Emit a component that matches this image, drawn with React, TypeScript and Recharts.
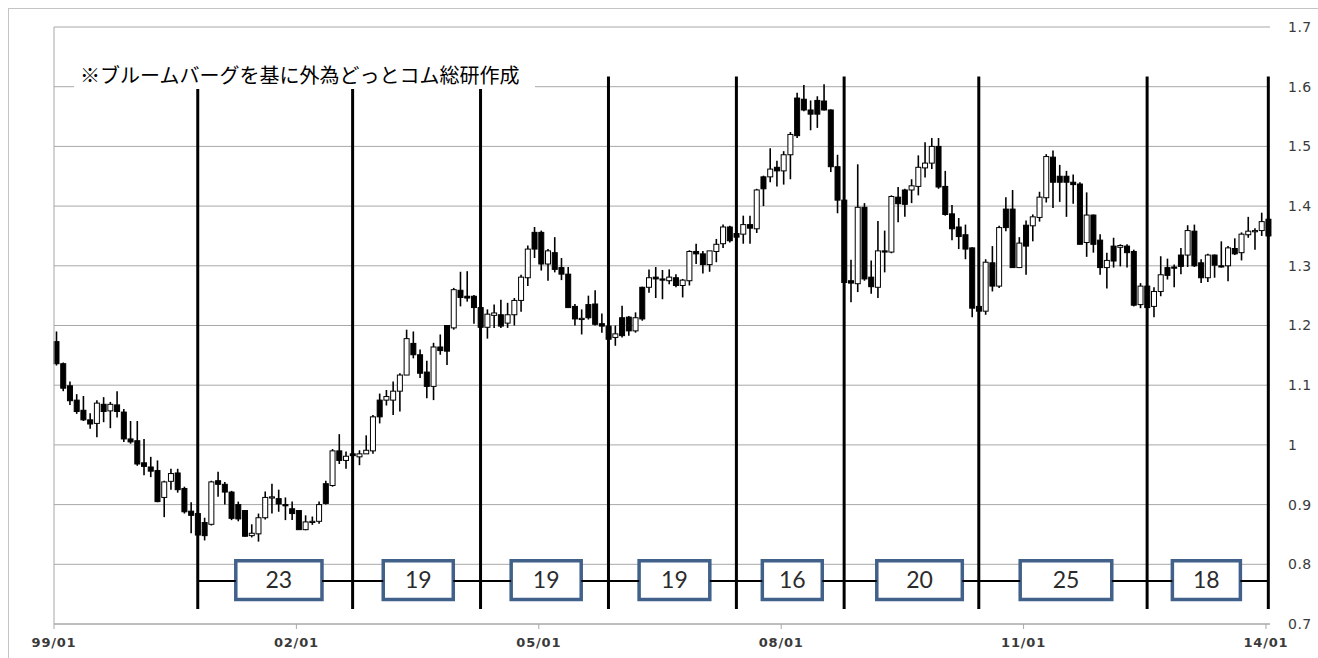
import { ComposedChart, Bar, XAxis, YAxis, CartesianGrid, ReferenceLine, ReferenceArea } from "recharts";

// EUR/USD monthly candles, 99/01 .. 14/01 (index 0 = 1999-01)
const OPEN = [
  1.173, 1.136, 1.099, 1.075, 1.058, 1.042, 1.036, 1.068, 1.057, 1.067,
  1.055, 1.010, 1.007, 0.970, 0.963, 0.957, 0.912, 0.939, 0.953, 0.927,
  0.889, 0.885, 0.870, 0.867, 0.940, 0.934, 0.921, 0.900, 0.890, 0.848,
  0.851, 0.878, 0.912, 0.910, 0.900, 0.893, 0.890, 0.858, 0.870, 0.872,
  0.935, 0.932, 0.990, 0.974, 0.985, 0.980, 0.985, 0.990, 1.075, 1.075,
  1.075, 1.090, 1.117, 1.170, 1.151, 1.122, 1.098, 1.164, 1.200, 1.196,
  1.259, 1.249, 1.249, 1.230, 1.197, 1.217, 1.218, 1.204, 1.218, 1.242,
  1.280, 1.356, 1.356, 1.303, 1.322, 1.297, 1.286, 1.232, 1.211, 1.235,
  1.236, 1.203, 1.199, 1.180, 1.213, 1.214, 1.191, 1.264, 1.264, 1.281,
  1.278, 1.275, 1.280, 1.267, 1.275, 1.324, 1.320, 1.302, 1.324, 1.337,
  1.365, 1.354, 1.353, 1.369, 1.362, 1.449, 1.449, 1.465, 1.459, 1.486,
  1.581, 1.579, 1.561, 1.577, 1.576, 1.561, 1.466, 1.410, 1.275, 1.270,
  1.398, 1.281, 1.264, 1.325, 1.323, 1.415, 1.427, 1.427, 1.433, 1.464,
  1.472, 1.500, 1.433, 1.387, 1.365, 1.352, 1.330, 1.232, 1.224, 1.305,
  1.266, 1.395, 1.395, 1.297, 1.368, 1.367, 1.381, 1.414, 1.482, 1.450,
  1.450, 1.440, 1.437, 1.339, 1.385, 1.343, 1.297, 1.333, 1.331, 1.333,
  1.324, 1.235, 1.266, 1.232, 1.257, 1.297, 1.298, 1.318, 1.318, 1.358,
  1.305, 1.280, 1.318, 1.300, 1.300, 1.329, 1.322, 1.352, 1.359, 1.359,
  1.378,
];
const HIGH = [
  1.190, 1.138, 1.106, 1.085, 1.082, 1.053, 1.075, 1.080, 1.072, 1.090,
  1.060, 1.040, 1.040, 1.010, 0.980, 0.974, 0.940, 0.960, 0.960, 0.930,
  0.904, 0.890, 0.878, 0.940, 0.955, 0.938, 0.923, 0.905, 0.890, 0.867,
  0.885, 0.922, 0.935, 0.925, 0.912, 0.905, 0.890, 0.882, 0.880, 0.905,
  0.940, 0.993, 1.018, 0.989, 0.990, 0.991, 1.016, 1.050, 1.086, 1.092,
  1.106, 1.120, 1.193, 1.190, 1.160, 1.141, 1.171, 1.185, 1.200, 1.263,
  1.290, 1.291, 1.251, 1.231, 1.227, 1.235, 1.243, 1.238, 1.246, 1.285,
  1.334, 1.365, 1.359, 1.328, 1.348, 1.313, 1.298, 1.236, 1.227, 1.250,
  1.259, 1.220, 1.202, 1.200, 1.233, 1.216, 1.222, 1.265, 1.294, 1.298,
  1.293, 1.294, 1.286, 1.278, 1.326, 1.337, 1.325, 1.325, 1.345, 1.369,
  1.367, 1.360, 1.384, 1.384, 1.429, 1.451, 1.497, 1.476, 1.492, 1.524,
  1.590, 1.603, 1.577, 1.584, 1.604, 1.562, 1.486, 1.410, 1.310, 1.470,
  1.405, 1.309, 1.375, 1.359, 1.418, 1.432, 1.429, 1.445, 1.485, 1.507,
  1.514, 1.514, 1.459, 1.402, 1.380, 1.369, 1.331, 1.250, 1.311, 1.333,
  1.367, 1.415, 1.427, 1.348, 1.376, 1.386, 1.424, 1.487, 1.493, 1.469,
  1.459, 1.453, 1.440, 1.423, 1.386, 1.353, 1.322, 1.347, 1.336, 1.336,
  1.327, 1.271, 1.270, 1.264, 1.316, 1.312, 1.302, 1.330, 1.368, 1.369,
  1.311, 1.320, 1.319, 1.341, 1.333, 1.346, 1.356, 1.382, 1.363, 1.389,
  1.385,
];
const LOW = [
  1.133, 1.090, 1.067, 1.052, 1.040, 1.027, 1.013, 1.038, 1.028, 1.046,
  1.005, 1.002, 0.965, 0.949, 0.946, 0.904, 0.879, 0.925, 0.920, 0.885,
  0.852, 0.835, 0.840, 0.865, 0.913, 0.900, 0.874, 0.872, 0.846, 0.845,
  0.838, 0.875, 0.885, 0.888, 0.874, 0.874, 0.858, 0.857, 0.866, 0.868,
  0.900, 0.930, 0.968, 0.960, 0.980, 0.966, 0.985, 0.985, 1.036, 1.066,
  1.050, 1.056, 1.117, 1.145, 1.112, 1.078, 1.075, 1.151, 1.134, 1.193,
  1.232, 1.240, 1.203, 1.196, 1.178, 1.196, 1.196, 1.196, 1.200, 1.223,
  1.266, 1.313, 1.292, 1.275, 1.289, 1.276, 1.230, 1.200, 1.185, 1.210,
  1.200, 1.188, 1.175, 1.166, 1.180, 1.183, 1.188, 1.208, 1.255, 1.246,
  1.244, 1.269, 1.264, 1.247, 1.267, 1.303, 1.287, 1.290, 1.306, 1.330,
  1.339, 1.340, 1.337, 1.337, 1.355, 1.400, 1.440, 1.433, 1.436, 1.445,
  1.514, 1.559, 1.527, 1.531, 1.560, 1.457, 1.388, 1.270, 1.239, 1.256,
  1.275, 1.253, 1.246, 1.289, 1.321, 1.373, 1.382, 1.405, 1.418, 1.448,
  1.462, 1.429, 1.384, 1.343, 1.328, 1.311, 1.214, 1.189, 1.218, 1.257,
  1.263, 1.358, 1.297, 1.297, 1.285, 1.341, 1.374, 1.406, 1.397, 1.407,
  1.382, 1.404, 1.336, 1.315, 1.322, 1.285, 1.262, 1.297, 1.299, 1.297,
  1.232, 1.229, 1.206, 1.214, 1.249, 1.277, 1.264, 1.286, 1.298, 1.298,
  1.271, 1.273, 1.280, 1.297, 1.274, 1.318, 1.309, 1.347, 1.327, 1.350,
  1.345,
];
const CLOSE = [
  1.136, 1.095, 1.074, 1.056, 1.042, 1.035, 1.070, 1.056, 1.068, 1.056,
  1.010, 1.005, 0.968, 0.964, 0.956, 0.905, 0.938, 0.952, 0.925, 0.888,
  0.882, 0.849, 0.848, 0.938, 0.934, 0.921, 0.877, 0.876, 0.847, 0.852,
  0.878, 0.912, 0.913, 0.901, 0.898, 0.885, 0.858, 0.871, 0.872, 0.900,
  0.902, 0.990, 0.974, 0.981, 0.982, 0.985, 0.991, 1.047, 1.047, 1.081,
  1.090, 1.117, 1.178, 1.151, 1.120, 1.098, 1.164, 1.158, 1.157, 1.260,
  1.247, 1.246, 1.230, 1.197, 1.219, 1.221, 1.199, 1.218, 1.242, 1.281,
  1.328, 1.328, 1.303, 1.325, 1.294, 1.286, 1.230, 1.211, 1.212, 1.213,
  1.202, 1.199, 1.177, 1.186, 1.183, 1.191, 1.213, 1.211, 1.280, 1.278,
  1.276, 1.281, 1.267, 1.276, 1.324, 1.320, 1.302, 1.325, 1.336, 1.365,
  1.342, 1.348, 1.369, 1.363, 1.427, 1.429, 1.462, 1.459, 1.486, 1.520,
  1.518, 1.561, 1.554, 1.554, 1.561, 1.466, 1.410, 1.272, 1.271, 1.398,
  1.278, 1.265, 1.325, 1.323, 1.416, 1.404, 1.403, 1.434, 1.465, 1.472,
  1.500, 1.432, 1.386, 1.362, 1.349, 1.328, 1.229, 1.224, 1.306, 1.266,
  1.364, 1.364, 1.297, 1.338, 1.333, 1.382, 1.415, 1.483, 1.440, 1.440,
  1.440, 1.436, 1.336, 1.385, 1.336, 1.297, 1.309, 1.308, 1.334, 1.322,
  1.234, 1.266, 1.230, 1.257, 1.285, 1.284, 1.297, 1.299, 1.359, 1.300,
  1.280, 1.318, 1.301, 1.299, 1.330, 1.320, 1.353, 1.358, 1.359, 1.374,
  1.350,
];

const X_TICKS = [0, 36, 72, 108, 144, 180];
const X_LABELS = ["99/01", "02/01", "05/01", "08/01", "11/01", "14/01"];
const Y_TICKS = [0.7, 0.8, 0.9, 1.0, 1.1, 1.2, 1.3, 1.4, 1.5, 1.6, 1.7];

// cycle boundaries (month index) and month counts shown in the boxes
const CYCLE_START = [21, 44, 63, 82, 101, 117, 137, 162, 180];
const CYCLE_MONTHS = [23, 19, 19, 19, 16, 20, 25, 18];

// layout of the annotation boxes (x extent in month units)
const BOX_SPAN = [
  [27.0, 39.8], [48.9, 59.3], [67.9, 78.3], [86.9, 97.4],
  [105.2, 114.1], [122.2, 134.9], [143.5, 157.1], [166.1, 176.2],
];

const SHIFT = 0.35; // candles sit a little right of the month tick
const LINE_TOP = 1.617;
const LINE_BOTTOM = 0.725;
const CONNECT_Y = 0.772;

const rows = OPEN.map((o, i) => ({
  t: i + SHIFT,
  range: [LOW[i], HIGH[i]],
  o, h: HIGH[i], l: LOW[i], c: CLOSE[i],
}));

function Candle(props: any) {
  const { x, y, width, height, payload } = props;
  if (x == null || y == null || !payload) return null;
  const { o, h, l, c } = payload;
  const cx = x + width / 2;
  const span = h - l || 1e-6;
  const py = (v: number) => y + ((h - v) / span) * height;
  const top = py(Math.max(o, c));
  const bot = py(Math.min(o, c));
  const up = c >= o;
  const bw = 5;
  return (
    <g>
      <line x1={cx} x2={cx} y1={y} y2={y + height} stroke="#000" strokeWidth={1.6} />
      <rect x={cx - bw / 2} y={top} width={bw} height={Math.max(bot - top, 1.2)}
        fill={up ? "#fff" : "#000"} stroke="#000" strokeWidth={1} />
    </g>
  );
}

const tickFont = { fontFamily: "DejaVu Sans", fontSize: 13, fill: "#3a3a3a" };

export default function App() {
  return (
    <div style={{ position: "absolute", left: 0, top: 0, width: 1318, height: 658, background: "#fff", overflow: "hidden" }}>
      <div style={{ position: "absolute", left: 8, top: 8, width: 1320, height: 660, border: "1px solid #c4c4c4" }} />
      <div style={{ position: "absolute", left: 0, top: 0 }}>
        <ComposedChart width={1318} height={658} data={rows} margin={{ top: 27, right: 0, bottom: 0, left: 54 }}>
          <CartesianGrid vertical={false} stroke="#a8a8a8" strokeWidth={1} />
          <XAxis
            type="number" dataKey="t" domain={[0, 180.6]} ticks={X_TICKS} interval={0}
            tickFormatter={(v: number) => X_LABELS[X_TICKS.indexOf(v)]}
            stroke="#a8a8a8" tickSize={5} tickMargin={9} height={34}
            tick={{ ...tickFont, fontSize: 13, fontWeight: "bold", letterSpacing: 0.8 }}
          />
          <YAxis
            orientation="right" type="number" domain={[0.7, 1.7]} ticks={Y_TICKS} interval={0}
            tickFormatter={(v: number) => String(Math.round(v * 10) / 10)}
            axisLine={false} tickLine={false} tickMargin={12} width={48}
            tick={{ ...tickFont, fontSize: 14, letterSpacing: 0.5 }}
          />
          <ReferenceLine x={0} stroke="#a8a8a8" strokeWidth={1} />
          <Bar dataKey="range" barSize={5} isAnimationActive={false} shape={(p: any) => <Candle {...p} />} />
          {CYCLE_START.map((m, k) => (
            <ReferenceLine key={"d" + k}
              segment={[{ x: m + SHIFT, y: LINE_BOTTOM }, { x: m + SHIFT, y: LINE_TOP }]}
              stroke="#000" strokeWidth={3} />
          ))}
          {BOX_SPAN.map(([a], k) => (
            <ReferenceLine key={"cl" + k}
              segment={[{ x: CYCLE_START[k] + SHIFT, y: CONNECT_Y }, { x: a, y: CONNECT_Y }]}
              stroke="#000" strokeWidth={2} />
          ))}
          {BOX_SPAN.map(([, b], k) => (
            <ReferenceLine key={"cr" + k}
              segment={[{ x: b, y: CONNECT_Y }, { x: CYCLE_START[k + 1] + SHIFT, y: CONNECT_Y }]}
              stroke="#000" strokeWidth={2} />
          ))}
          {BOX_SPAN.map(([a, b], k) => (
            <ReferenceArea key={"b" + k} x1={a} x2={b} y1={0.741} y2={0.806}
              fill="#fff" fillOpacity={1} stroke="#41618a" strokeWidth={3.5}
              label={{ value: String(CYCLE_MONTHS[k]), position: "center", fontSize: 23, fill: "#2b2b2b", fontFamily: "Lato" }} />
          ))}
        </ComposedChart>
      </div>
      <div style={{
        position: "absolute", left: 74, top: 61, width: 461, height: 28, background: "#fff",
        fontFamily: "'Noto Sans CJK JP', sans-serif", fontSize: 20, lineHeight: "28px",
        color: "#000", paddingLeft: 6, boxSizing: "border-box", whiteSpace: "nowrap",
      }}>
        ※ブルームバーグを基に外為どっとコム総研作成
      </div>
    </div>
  );
}
